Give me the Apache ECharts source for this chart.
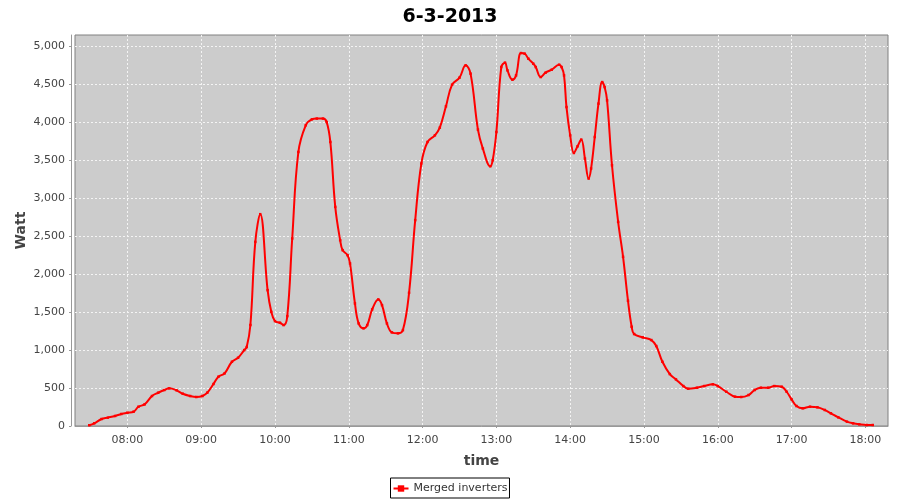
<!DOCTYPE html>
<html>
<head>
<meta charset="utf-8">
<script src="https://cdn.jsdelivr.net/npm/echarts@6/dist/echarts.min.js"></script>
<style>html,body{margin:0;padding:0;background:#fff;}#c{width:900px;height:500px;}</style>
</head>
<body>
<div id="c"></div>
<script>
const chartTitle = '6-3-2013';
const seriesName = 'Merged inverters';
const times = ['07:29','07:33','07:39','07:44','07:50','07:55','08:00','08:05','08:09','08:14','08:20','08:25','08:30','08:34','08:40','08:45','08:51','08:56','09:01','09:05','09:10','09:14','09:19','09:25','09:30','09:35','09:37','09:40','09:44','09:48','09:54','09:57','10:00','10:04','10:07','10:10','10:14','10:19','10:25','10:30','10:34','10:39','10:42','10:45','10:49','10:53','10:55','10:59','11:01','11:05','11:08','11:12','11:15','11:19','11:24','11:27','11:31','11:35','11:40','11:44','11:49','11:54','11:59','12:04','12:10','12:14','12:19','12:24','12:30','12:35','12:39','12:45','12:49','12:55','12:57','13:00','13:04','13:07','13:09','13:13','13:16','13:20','13:23','13:26','13:30','13:32','13:36','13:40','13:45','13:51','13:53','13:55','13:57','14:00','14:03','14:06','14:09','14:12','14:15','14:17','14:20','14:23','14:26','14:28','14:30','14:34','14:39','14:43','14:47','14:50','14:52','14:59','15:06','15:10','15:15','15:21','15:26','15:32','15:36','15:43','15:49','15:56','16:00','16:07','16:14','16:19','16:25','16:30','16:35','16:41','16:46','16:52','16:56','17:00','17:04','17:09','17:15','17:21','17:27','17:32','17:38','17:45','17:50','17:55','18:01','18:06'];
const watts = [10,35,92,110,132,158,175,188,254,285,395,438,474,496,470,425,395,382,395,440,553,649,693,846,899,1000,1040,1330,2425,2790,1789,1504,1382,1360,1329,1447,2470,3609,3961,4039,4049,4049,4004,3741,2886,2447,2316,2250,2141,1614,1351,1286,1329,1535,1667,1592,1351,1233,1220,1263,1754,2711,3457,3741,3829,3930,4211,4496,4588,4750,4641,3904,3654,3421,3500,3872,4728,4786,4684,4562,4618,4912,4904,4838,4772,4728,4596,4654,4693,4759,4728,4618,4201,3829,3596,3684,3772,3522,3259,3391,3807,4246,4530,4464,4289,3434,2688,2228,1650,1307,1211,1167,1132,1053,846,684,614,526,491,504,526,549,526,451,386,382,408,474,504,504,526,517,451,351,263,233,254,246,211,167,114,57,35,22,13,13];
const xTickLabels = ['08:00','09:00','10:00','11:00','12:00','13:00','14:00','15:00','16:00','17:00','18:00'];
const yTickValues = [0,500,1000,1500,2000,2500,3000,3500,4000,4500,5000];

function toMin(s){const p=s.split(':');return (+p[0])*60+(+p[1]);}
function fmtMin(v){const h=Math.floor(v/60),m=Math.round(v-h*60);return String(h).padStart(2,'0')+':'+String(m).padStart(2,'0');}
const xTickValues = xTickLabels.map(toMin);
const data = times.map((t,i)=>[toMin(t),watts[i]]);

const FONT='DejaVu Sans';
const chart = echarts.init(document.getElementById('c'),null,{renderer:'canvas'});
chart.setOption({
  animation:false,
  backgroundColor:'#ffffff',
  title:{text:chartTitle,left:'center',top:3,textStyle:{fontFamily:FONT,fontWeight:'bold',fontSize:19,color:'#000'}},
  legend:{bottom:2,left:'center',data:[seriesName],borderColor:'#000',borderWidth:1,borderRadius:0,padding:[5,2,4,2],itemWidth:15,itemHeight:8,itemGap:4,
    textStyle:{fontFamily:FONT,fontSize:11,color:'#333'}},
  grid:{left:75,right:12,top:35,bottom:74,show:true,backgroundColor:'#cccccc',borderColor:'#808080',borderWidth:1,containLabel:false},
  xAxis:{type:'value',min:437.4,max:1098.4,minInterval:60,maxInterval:60,offset:4,
    name:'time',nameLocation:'middle',nameGap:24,nameTextStyle:{fontFamily:FONT,fontWeight:'bold',fontSize:14,color:'#444'},
    axisLine:{show:true,lineStyle:{color:'#999',width:1}},
    axisTick:{show:true,length:2,lineStyle:{color:'#999'},customValues:xTickValues},
    axisLabel:{customValues:xTickValues,formatter:fmtMin,fontFamily:FONT,fontSize:11,color:'#444',margin:5},
    splitLine:{show:true,lineStyle:{color:'#f4f4f4',type:[2,2],width:1}}},
  yAxis:{type:'value',min:0,max:5150,interval:500,offset:4,
    name:'Watt',nameLocation:'middle',nameGap:43,nameMoveOverlap:false,nameTextStyle:{fontFamily:FONT,fontWeight:'bold',fontSize:14,color:'#444'},
    axisLine:{show:true,lineStyle:{color:'#999',width:1}},
    axisTick:{show:true,length:2,lineStyle:{color:'#999'},customValues:yTickValues},
    axisLabel:{customValues:yTickValues,formatter:v=>v.toLocaleString('en-US'),fontFamily:FONT,fontSize:11,color:'#444',margin:6},
    splitLine:{show:true,lineStyle:{color:'#f4f4f4',type:[2,2],width:1}}},
  series:[{name:seriesName,type:'line',data:data,smooth:0.4,showSymbol:true,symbol:'rect',symbolSize:2.5,
    lineStyle:{color:'#ff0000',width:2},itemStyle:{color:'#ff0000'},clip:true}]
});
</script>
</body>
</html>
